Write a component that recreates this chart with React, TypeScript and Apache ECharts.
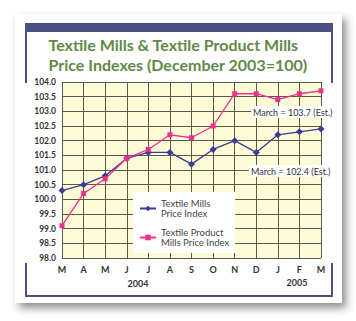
import React, { useEffect, useRef } from "react";
import * as echarts from "echarts";

const months = ["M", "A", "M", "J", "J", "A", "S", "O", "N", "D", "J", "F", "M"];
const textileMills = [100.3, 100.5, 100.8, 101.4, 101.6, 101.6, 101.2, 101.7, 102.0, 101.6, 102.2, 102.3, 102.4];
const textileProductMills = [99.1, 100.2, 100.7, 101.4, 101.7, 102.2, 102.1, 102.5, 103.6, 103.6, 103.4, 103.6, 103.7];
const seriesNames = ["Textile Mills\nPrice Index", "Textile Product\nMills Price Index"];
const titleLines = ["Textile Mills & Textile Product Mills", "Price Indexes (December 2003=100)"];
const yearLabels = ["2004", "2005"];
const notes = ["March = 103.7 (Est.)", "March = 102.4 (Est.)"];

const NAVY = "#4b5082";
const GREEN = "#5f8a45";
const BLUE = "#3a3d96";
const PINK = "#f0308f";
const GRID = "#5a5a4a";
const FONT = "Lato, 'Open Sans', sans-serif";

export default function App() {
  const ref = useRef<HTMLDivElement>(null);
  useEffect(() => {
    if (!ref.current) return;
    const chart = echarts.init(ref.current, undefined, { renderer: "svg" });
    chart.setOption({
      animation: false,
      backgroundColor: "#ffffff",
      textStyle: { fontFamily: FONT },
      grid: { left: 62, top: 82, right: 35, bottom: 63, show: true, backgroundColor: "#fdfad6", borderWidth: 0 },
      xAxis: {
        type: "category",
        data: months,
        boundaryGap: false,
        axisLine: { show: false },
        axisTick: { show: false },
        axisLabel: { color: "#333", fontWeight: "bold", fontSize: 9, margin: 7, fontFamily: FONT },
        splitLine: { show: true, lineStyle: { color: GRID, width: 1 } },
      },
      yAxis: {
        type: "value",
        min: 98,
        max: 104,
        interval: 0.5,
        axisLine: { show: false },
        axisTick: { show: false },
        axisLabel: {
          color: "#333",
          fontWeight: "bold",
          fontSize: 8.5,
          margin: 6,
          fontFamily: FONT,
          formatter: (v: number) => v.toFixed(1),
        },
        splitLine: { show: true, lineStyle: { color: GRID, width: 1 } },
      },
      legend: {
        orient: "vertical",
        left: 133,
        top: 192,
        width: 96,
        backgroundColor: "#ffffff",
        padding: [6, 6, 5, 6],
        itemGap: 8,
        itemWidth: 16,
        itemHeight: 7,
        textStyle: { color: "#444", fontSize: 9.5, lineHeight: 10.5, fontFamily: FONT },
        data: [seriesNames[0], seriesNames[1]],
      },
      graphic: [
        {
          type: "rect",
          z: -10,
          shape: { x: 15, y: 14, width: 327, height: 289 },
          style: { fill: "#fff", shadowBlur: 8, shadowOffsetX: 4, shadowOffsetY: 5, shadowColor: "rgba(0,0,0,0.45)" },
        },
        { type: "rect", z: -9, shape: { x: 25, y: 23, width: 308, height: 9 }, style: { fill: NAVY } },
        { type: "rect", z: -9, shape: { x: 25, y: 32, width: 2, height: 51 }, style: { fill: NAVY } },
        { type: "rect", z: -9, shape: { x: 25, y: 263, width: 2, height: 34 }, style: { fill: NAVY } },
        { type: "rect", z: -9, shape: { x: 331, y: 32, width: 2, height: 51 }, style: { fill: NAVY } },
        { type: "rect", z: -9, shape: { x: 331, y: 263, width: 2, height: 34 }, style: { fill: NAVY } },
        { type: "rect", z: -9, shape: { x: 25, y: 295, width: 308, height: 2 }, style: { fill: NAVY } },
        {
          type: "text",
          left: "center",
          top: 34,
          style: {
            text: titleLines.join("\n"),
            fill: GREEN,
            font: `bold 16px ${FONT}`,
            lineHeight: 20,
            align: "center",
          },
        },
        {
          type: "text",
          x: 138,
          y: 283,
          style: { text: yearLabels[0], fill: "#333", font: `bold 9px ${FONT}`, align: "center", verticalAlign: "middle" },
        },
        {
          type: "text",
          x: 297,
          y: 282,
          style: { text: yearLabels[1], fill: "#333", font: `bold 9px ${FONT}`, align: "center", verticalAlign: "middle" },
        },
        { type: "line", z: 9, shape: { x1: 312, y1: 112, x2: 321, y2: 112 }, style: { stroke: "#555", lineWidth: 1 } },
        { type: "line", z: 9, shape: { x1: 312, y1: 171, x2: 321, y2: 171 }, style: { stroke: "#555", lineWidth: 1 } },
        {
          type: "text",
          x: 251,
          y: 112,
          z: 10,
          style: {
            text: notes[0],
            fill: "#333",
            font: `9px ${FONT}`,
            verticalAlign: "middle",
            backgroundColor: "#fff",
            padding: [2, 1, 1, 2],
          },
        },
        {
          type: "text",
          x: 249,
          y: 171,
          z: 10,
          style: {
            text: notes[1],
            fill: "#333",
            font: `9px ${FONT}`,
            verticalAlign: "middle",
            backgroundColor: "#fff",
            padding: [2, 1, 1, 2],
          },
        },
      ],
      series: [
        {
          name: seriesNames[0],
          type: "line",
          data: textileMills,
          symbol: "diamond",
          symbolSize: 7,
          itemStyle: { color: BLUE },
          lineStyle: { color: BLUE, width: 1.3 },
          z: 3,
        },
        {
          name: seriesNames[1],
          type: "line",
          data: textileProductMills,
          symbol: "rect",
          symbolSize: 5,
          itemStyle: { color: PINK },
          lineStyle: { color: PINK, width: 1.3 },
          z: 4,
        },
      ],
    });
    return () => chart.dispose();
  }, []);
  return <div ref={ref} style={{ position: "fixed", left: 0, top: 0, width: 356, height: 321 }} />;
}
